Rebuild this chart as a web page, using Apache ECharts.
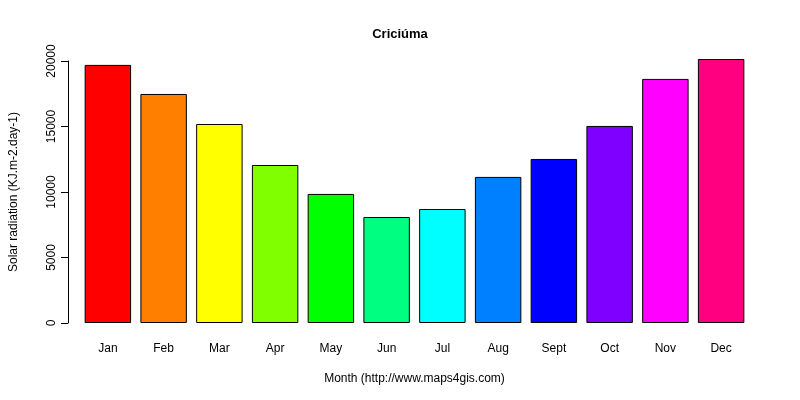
<!DOCTYPE html><html><head><meta charset="utf-8">
<script src="https://cdn.jsdelivr.net/npm/echarts@6/dist/echarts.min.js"></script>
<style>html,body{margin:0;background:#fff}#c{width:800px;height:400px}</style></head><body><div id="c"></div>
<script>
const months=['Jan','Feb','Mar','Apr','May','Jun','Jul','Aug','Sept','Oct','Nov','Dec'];
const values=[19700,17480,15190,12060,9850,8090,8700,11150,12520,15040,18630,20150];
const colors=['#FF0000','#FF8000','#FFFF00','#80FF00','#00FF00','#00FF80','#00FFFF','#0080FF','#0000FF','#8000FF','#FF00FF','#FF0080'];
const yTicks=[0,5000,10000,15000,20000];
const F='Arial, Liberation Sans, sans-serif';
const ch=echarts.init(document.getElementById('c'));
ch.setOption({
 animation:false,
 title:{text:'Criciúma',left:'center',top:23,textStyle:{fontFamily:F,fontSize:13,fontWeight:'bold',color:'#000'}},
 grid:[{left:80,right:51,top:59,bottom:77},{left:80,right:51,top:61,bottom:77}],
 xAxis:[{type:'category',data:months,gridIndex:0,axisLine:{show:false},axisTick:{show:false},
   axisLabel:{margin:20,fontFamily:F,fontSize:12,color:'#000'},
   name:'Month (http://www.maps4gis.com)',nameLocation:'middle',nameGap:50,nameTextStyle:{fontFamily:F,fontSize:12,color:'#000'}},
  {type:'category',data:months,gridIndex:1,show:false}],
 yAxis:[{type:'value',gridIndex:0,min:0,max:20150,show:false,splitLine:{show:false}},
  {type:'value',gridIndex:1,min:0,max:20000,interval:5000,offset:20,splitLine:{show:false},
   axisLine:{show:true,lineStyle:{color:'#000'}},axisTick:{show:true,length:7,lineStyle:{color:'#000'}},
   axisLabel:{rotate:90,margin:10,fontFamily:F,fontSize:12,color:'#000',formatter:v=>yTicks.includes(v)?String(v):''},
   name:'Solar radiation (KJ.m-2.day-1)',nameLocation:'middle',nameGap:48,nameTextStyle:{fontFamily:F,fontSize:12,color:'#000'}}],
 series:[{type:'bar',xAxisIndex:0,yAxisIndex:0,barWidth:'83.3%',
   data:values.map((v,i)=>({value:v,itemStyle:{color:colors[i],borderColor:'#000',borderWidth:1}}))}]
});
</script></body></html>
